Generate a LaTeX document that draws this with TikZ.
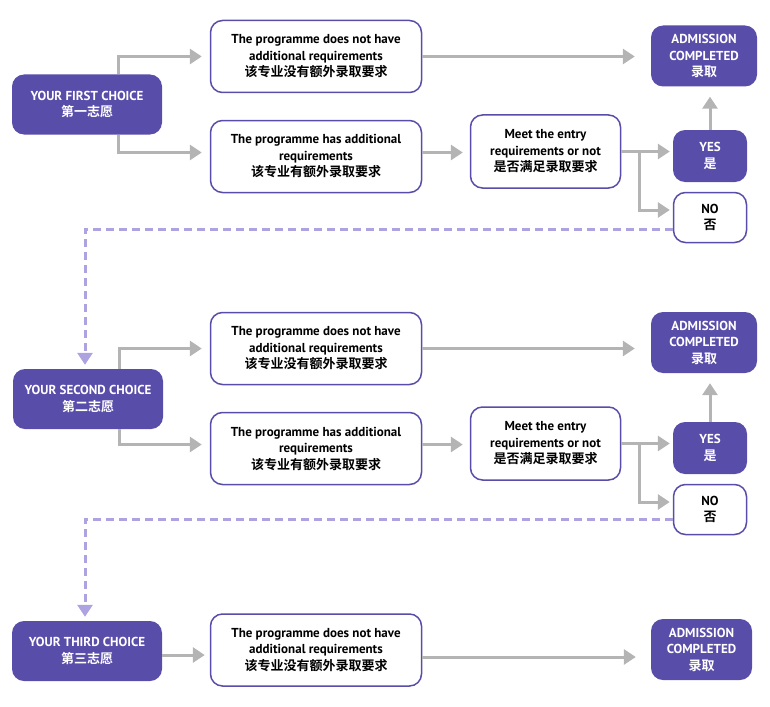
\documentclass[tikz,border=0pt]{standalone}
\usepackage{fontspec}
\setmainfont{PT Sans}
\newfontfamily\cjk{Noto Sans CJK SC}[BoldFont={* Bold}]
\usepackage{tikz}
\usetikzlibrary{shapes, arrows.meta, positioning}
\definecolor{purp}{RGB}{89,77,170}
\definecolor{arrowgray}{RGB}{180,180,180}
\definecolor{lilac}{RGB}{174,162,224}
\tikzset{
  choicebox/.style={rounded corners=12pt, fill=purp, text=white, align=center,
    minimum width=150pt, minimum height=60pt, inner sep=0pt,
    font=\fontsize{13}{16.5}\selectfont\bfseries},
  reqbox/.style={rounded corners=12pt, draw=purp, line width=1.5pt, fill=white, align=center,
    minimum width=211pt, minimum height=72pt, inner sep=0pt,
    font=\fontsize{13}{16.5}\selectfont\bfseries},
  admitbox/.style={choicebox, minimum width=106pt, minimum height=61pt},
  yesbox/.style={choicebox, minimum width=74pt, minimum height=52pt},
  nobox/.style={reqbox, minimum width=73pt, minimum height=50pt},
  flow/.style={arrowgray, line width=3pt, -{Triangle[length=12pt,width=15pt]}},
  backflow/.style={lilac, line width=3pt, dash pattern=on 8pt off 5pt,
    -{Triangle[length=12pt,width=15pt]}}
}
\newcommand{\zh}[1]{{\cjk #1}}

\begin{document}
\begin{tikzpicture}[x=1pt, y=-1pt]
\useasboundingbox (0,0) rectangle (770,706);

% 第一志愿
\node[choicebox] (c1) at (87,104.5) {YOUR FIRST CHOICE\\ \zh{第一志愿}};
\node[reqbox] (a1) at (316,56.5) {The programme does not have\\ additional requirements\\ \zh{该专业没有额外录取要求}};
\node[reqbox] (b1) at (316,156.5) {The programme has additional\\ requirements\\ \zh{该专业有额外录取要求}};
\node[reqbox, minimum width=150pt, minimum height=73pt] (m1) at (545.5,151.5) {Meet the entry\\ requirements or not\\ \zh{是否满足录取要求}};
\node[admitbox] (d1) at (704,56) {ADMISSION\\ COMPLETED\\ \zh{录取}};
\node[yesbox] (y1) at (710,156) {YES\\ \zh{是}};
\node[nobox] (n1) at (710,217.5) {NO\\ \zh{否}};
\draw[flow, shorten >=8pt] ([xshift=31pt]c1.north) |- (a1.west);
\draw[flow, shorten >=8pt] ([xshift=31pt]c1.south) |- ([yshift=4pt]b1.west);
\draw[flow, shorten >=16pt] (a1.east) -- (a1.east -| d1.west);
\draw[flow, shorten >=7pt] ([yshift=4pt]b1.east) -- ([yshift=4pt]b1.east -| m1.west);
\draw[flow, shorten >=3pt] (m1.east) -- (m1.east -| y1.west);
\draw[flow, shorten >=3pt] ([xshift=18pt]m1.east) |- ([yshift=7.5pt]n1.west);
\draw[flow, shorten >=10pt] (y1.north) -- (y1.north |- d1.south);

% 第二志愿
\begin{scope}[shift={(0,292)}]
\node[choicebox] (c2) at (88,107) {YOUR SECOND CHOICE\\ \zh{第二志愿}};
\node[reqbox] (a2) at (316,56.5) {The programme does not have\\ additional requirements\\ \zh{该专业没有额外录取要求}};
\node[reqbox] (b2) at (316,156.5) {The programme has additional\\ requirements\\ \zh{该专业有额外录取要求}};
\node[reqbox, minimum width=150pt, minimum height=73pt] (m2) at (545.5,151.5) {Meet the entry\\ requirements or not\\ \zh{是否满足录取要求}};
\node[admitbox] (d2) at (704,50.5) {ADMISSION\\ COMPLETED\\ \zh{录取}};
\node[yesbox] (y2) at (710,156) {YES\\ \zh{是}};
\node[nobox] (n2) at (710,217.5) {NO\\ \zh{否}};
\end{scope}
\draw[backflow, shorten >=4pt] ([yshift=-11.5pt]n1.west) -| ([xshift=-3pt]c2.north);
\draw[flow, shorten >=8pt] ([xshift=31pt]c2.north) |- (a2.west);
\draw[flow, shorten >=8pt] ([xshift=31pt]c2.south) |- ([yshift=4pt]b2.west);
\draw[flow, shorten >=16pt] (a2.east) -- (a2.east -| d2.west);
\draw[flow, shorten >=7pt] ([yshift=4pt]b2.east) -- ([yshift=4pt]b2.east -| m2.west);
\draw[flow, shorten >=3pt] (m2.east) -- (m2.east -| y2.west);
\draw[flow, shorten >=3pt] ([xshift=18pt]m2.east) |- ([yshift=7.5pt]n2.west);
\draw[flow, shorten >=10pt] (y2.north) -- (y2.north |- d2.south);

% 第三志愿
\node[choicebox] (c3) at (87,651) {YOUR THIRD CHOICE\\ \zh{第三志愿}};
\node[reqbox] (a3) at (316,650) {The programme does not have\\ additional requirements\\ \zh{该专业没有额外录取要求}};
\node[admitbox, minimum width=101pt] (d3) at (701.5,649.5) {ADMISSION\\ COMPLETED\\ \zh{录取}};
\draw[backflow, shorten >=4pt] ([yshift=-9.5pt]n2.west) -| ([xshift=-2pt]c3.north);
\draw[flow, shorten >=5pt] ([yshift=-4pt]c3.east) -- ([yshift=-4pt]c3.east -| a3.west);
\draw[flow, shorten >=15pt] ([yshift=-7pt]a3.east) -- ([yshift=-7pt]a3.east -| d3.west);
\end{tikzpicture}
\end{document}
